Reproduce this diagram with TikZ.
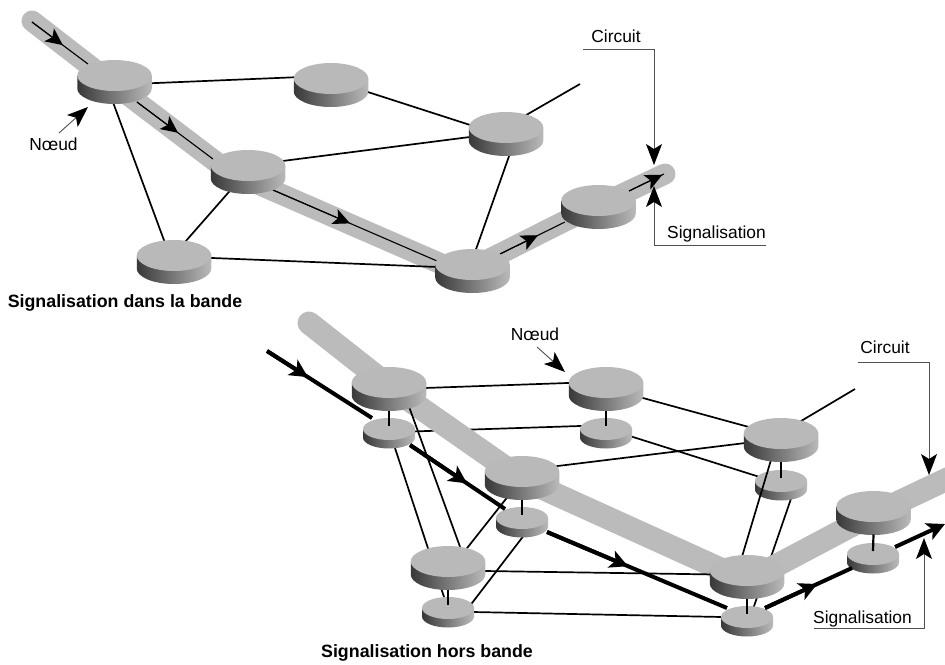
\documentclass[tikz,border=0pt]{standalone}
\usepackage{fontspec}
\setmainfont{Liberation Sans}
\usetikzlibrary{arrows.meta,shapes.geometric,calc}
\definecolor{disktop}{HTML}{B9B9B9}
\definecolor{bandcol}{HTML}{BBBBBB}
\definecolor{leader}{HTML}{505050}
\tikzset{
  top/.style={ellipse,fill=disktop,draw=none,inner sep=0pt,outer sep=0pt},
  bigtop/.style={top,minimum width=74.5pt,minimum height=31pt},
  smalltop/.style={top,minimum width=52pt,minimum height=22pt},
  side/.style={left color=black!78,middle color=black!52,right color=black!27,draw=none},
  link/.style={draw=black,line width=1.7pt},
  stem/.style={draw=black,line width=2.2pt},
  band/.style={draw=bandcol,line join=round},
  thinsig/.style={draw=black,line width=1.1pt},
  thicksig/.style={draw=black,line width=4pt},
  headA/.style={-{Stealth[length=17pt,width=16pt,inset=4pt,color=black]}},
  headB/.style={-{Stealth[length=18pt,width=18pt,inset=4.5pt,color=black]}},
  callout/.style={draw=leader,line width=0.9pt,-{Stealth[length=21pt,width=16pt,inset=5pt,color=black]}},
  lab/.style={anchor=base,inner sep=0pt,font=\fontsize{17.4}{20}\selectfont},
  title/.style={anchor=base,inner sep=0pt,font=\fontsize{17.8}{20}\selectfont\bfseries},
}
\newcommand{\bigdisk}[3]{%
  \shade[side] (#2-37.25,#3) -- (#2-37.25,#3+13) arc[start angle=180,end angle=0,x radius=37.25,y radius=15.5] -- (#2+37.25,#3) -- cycle;
  \node[bigtop] (#1) at (#2,#3) {};}
\newcommand{\smalldisk}[3]{%
  \shade[side] (#2-26,#3) -- (#2-26,#3+8.5) arc[start angle=180,end angle=0,x radius=26,y radius=11] -- (#2+26,#3) -- cycle;
  \node[smalltop] (#1) at (#2,#3) {};}
\newcommand{\lnk}[6]{\draw[link] ([shift={(#2,#3)}]#1.center) -- ([shift={(#5,#6)}]#4.center);}
\newcommand{\stm}[2]{\draw[stem] ([shift={(0,28)}]#1.center) -- ([shift={(0,-3)}]#2.center);}
\newcommand{\sigseg}[5]{\draw[#1] (#2) -- (#3); \draw[#1,#5] (#2) -- ($(#2)!#4!(#3)$);}
\begin{document}
\begin{tikzpicture}[x=1pt,y=-1pt]
\useasboundingbox (0,0) rectangle (945,664);
\clip (0,0) rectangle (945,664);
\fill[white] (0,0) rectangle (945,664);

% ---------- upper network ----------
\draw[band,line width=21pt,line cap=round] (32,21) -- (114,84.5) -- (228,171) -- (462,273) -- (565,221) -- (665,174);
\coordinate (freeC) at (580,84);
\coordinate (t0) at (32,22);   \coordinate (t2) at (88,64);
\coordinate (t3) at (137,102); \coordinate (t5) at (213,159);
\coordinate (t6) at (273,190); \coordinate (t8) at (437,261);
\coordinate (t9) at (500,254); \coordinate (t11) at (565,222);
\coordinate (t12) at (629,191);\coordinate (t14) at (664,174);
\sigseg{thinsig}{t0}{t2}{0.55}{headA}
\sigseg{thinsig}{t3}{t5}{0.54}{headA}
\sigseg{thinsig}{t6}{t8}{0.47}{headA}
\sigseg{thinsig}{t9}{t11}{0.585}{headA}
\sigseg{thinsig}{t12}{t14}{0.95}{headA}

\path (114.5,75.5) coordinate (A0) (331,78.5) coordinate (B0) (506,127.5) coordinate (C0)
      (248,165.5) coordinate (D0) (174,255.5) coordinate (E0) (472.5,264.5) coordinate (F0);
\lnk{A0}{30}{8}{B0}{-30}{-1.5}
\lnk{B0}{30}{11.3}{C0}{-30}{-0.6}
\lnk{A0}{-4}{20}{E0}{-6.4}{-5.5}
\lnk{D0}{-13}{19.5}{E0}{4}{-5.5}
\lnk{D0}{22}{-2.9}{C0}{-26}{8.2}
\lnk{E0}{26}{2}{F0}{-22.5}{3}
\lnk{C0}{7}{17.5}{F0}{1.5}{-9.5}
\draw[link] ([shift={(15,-9.5)}]C0) -- (freeC);

\bigdisk{A}{114.5}{75.5}
\bigdisk{B}{331}{78.5}
\bigdisk{C}{506}{127.5}
\bigdisk{D}{248}{165.5}
\bigdisk{E}{174}{255.5}
\bigdisk{F}{472.5}{264.5}
\bigdisk{G}{598.5}{200.5}

% annotations, upper
\node[lab] (lc1) at (616,42) {Circuit};
\node[lab] (ls1) at (716.5,238) {Signalisation};
\node[lab] (ln1) at (53.5,150) {Nœud};
\node[title] (tt1) at (125,307) {Signalisation dans la bande};
\coordinate (c1a) at (583,49); \coordinate (c1b) at (654,49); \coordinate (c1c) at (654,165);
\coordinate (s1a) at (766,245); \coordinate (s1b) at (654,245); \coordinate (s1c) at (654,186);
\draw[callout] (c1a) -- (c1b) -- (c1c);
\draw[callout] (s1a) -- (s1b) -- (s1c);
\coordinate (n1a) at (59,133); \coordinate (n1b) at (88,107);
\draw[callout] (n1a) -- (n1b);

% ---------- lower network ----------
\path (389,429) coordinate (sa0) (606,429) coordinate (sb0) (781,481) coordinate (sc0)
      (522,518) coordinate (sd0) (448,608) coordinate (se0) (747,617) coordinate (sf0) (873,554) coordinate (sg0)
      (389,382.5) coordinate (ba0) (606,382.5) coordinate (bb0) (781,433.5) coordinate (bc0)
      (522,471.5) coordinate (bd0) (448,561.5) coordinate (be0) (747,570.5) coordinate (bf0) (873.5,506.5) coordinate (bg0);
\coordinate (freeD) at (855,389);
\lnk{sa0}{20}{2.6}{sb0}{-20}{-3.2}
\lnk{sb0}{20}{5.8}{sc0}{-20}{-3.6}
\lnk{sa0}{1.7}{6}{se0}{-2}{-5}
\lnk{sd0}{6}{12}{se0}{22.5}{-3}
\lnk{sc0}{13}{9}{sf0}{5}{-5}
\lnk{se0}{20}{3.9}{sf0}{-20}{0.1}

\smalldisk{sa}{389}{429}
\smalldisk{sb}{606}{429}
\smalldisk{sc}{781}{481}
\smalldisk{sd}{522}{518}
\smalldisk{se}{448}{608}
\smalldisk{sf}{747}{617}
\smalldisk{sg}{873}{554}

\draw[band,line width=23pt,line cap=round] (309,323) -- (389,386) -- (522,479) -- (747,581) -- (873.5,514) -- (960,473);

\lnk{ba0}{30}{5.7}{bb0}{-30}{0.2}
\lnk{bb0}{30}{13.6}{bc0}{-30}{-5.9}
\lnk{bd0}{30}{-4.8}{bc0}{-30}{8.8}
\lnk{ba0}{19.4}{22.5}{be0}{15}{-6.5}
\lnk{bd0}{-9}{18.5}{be0}{13.6}{-6.5}
\lnk{be0}{30}{9.4}{bf0}{-30}{4}
\lnk{bc0}{-7}{16.5}{bf0}{-6}{-10.5}
\draw[link] ([shift={(15,-9.5)}]bc0) -- (freeD);

\coordinate (h0) at (267,351);  \coordinate (h2) at (372,418);
\coordinate (h3) at (410,445);  \coordinate (h5) at (505,509);
\coordinate (h6) at (547,532);  \coordinate (h8) at (727,608);
\coordinate (h9) at (765,608);  \coordinate (h11) at (852,568);
\coordinate (h12) at (895,547); \coordinate (h13) at (945,524);
\sigseg{thicksig}{h0}{h2}{0.39}{headB}
\sigseg{thicksig}{h3}{h5}{0.6}{headB}
\sigseg{thicksig}{h6}{h8}{0.45}{headB}
\sigseg{thicksig}{h9}{h11}{0.6}{headB}
\draw[thicksig,headB] (h12) -- (h13);

\bigdisk{ba}{389}{382.5}
\bigdisk{bb}{606}{382.5}
\bigdisk{bc}{781}{433.5}
\bigdisk{bd}{522}{471.5}
\bigdisk{be}{448}{561.5}
\bigdisk{bf}{747}{570.5}
\bigdisk{bg}{873.5}{506.5}

\stm{ba}{sa}
\stm{bb}{sb}
\stm{bc}{sc}
\stm{bd}{sd}
\stm{be}{se}
\stm{bf}{sf}
\stm{bg}{sg}

% annotations, lower
\node[lab] (lc2) at (885,353) {Circuit};
\node[lab] (ls2) at (862.5,623) {Signalisation};
\node[lab] (ln2) at (535,340) {Nœud};
\node[title] (tt2) at (427,657) {Signalisation hors bande};
\coordinate (c2a) at (858,362); \coordinate (c2b) at (929,362); \coordinate (c2c) at (929,475);
\coordinate (s2a) at (814,628); \coordinate (s2b) at (924,628); \coordinate (s2c) at (924,538);
\draw[callout] (c2a) -- (c2b) -- (c2c);
\draw[callout] (s2a) -- (s2b) -- (s2c);
\coordinate (n2a) at (537,347); \coordinate (n2b) at (565,372);
\draw[callout] (n2a) -- (n2b);
\end{tikzpicture}
\end{document}
